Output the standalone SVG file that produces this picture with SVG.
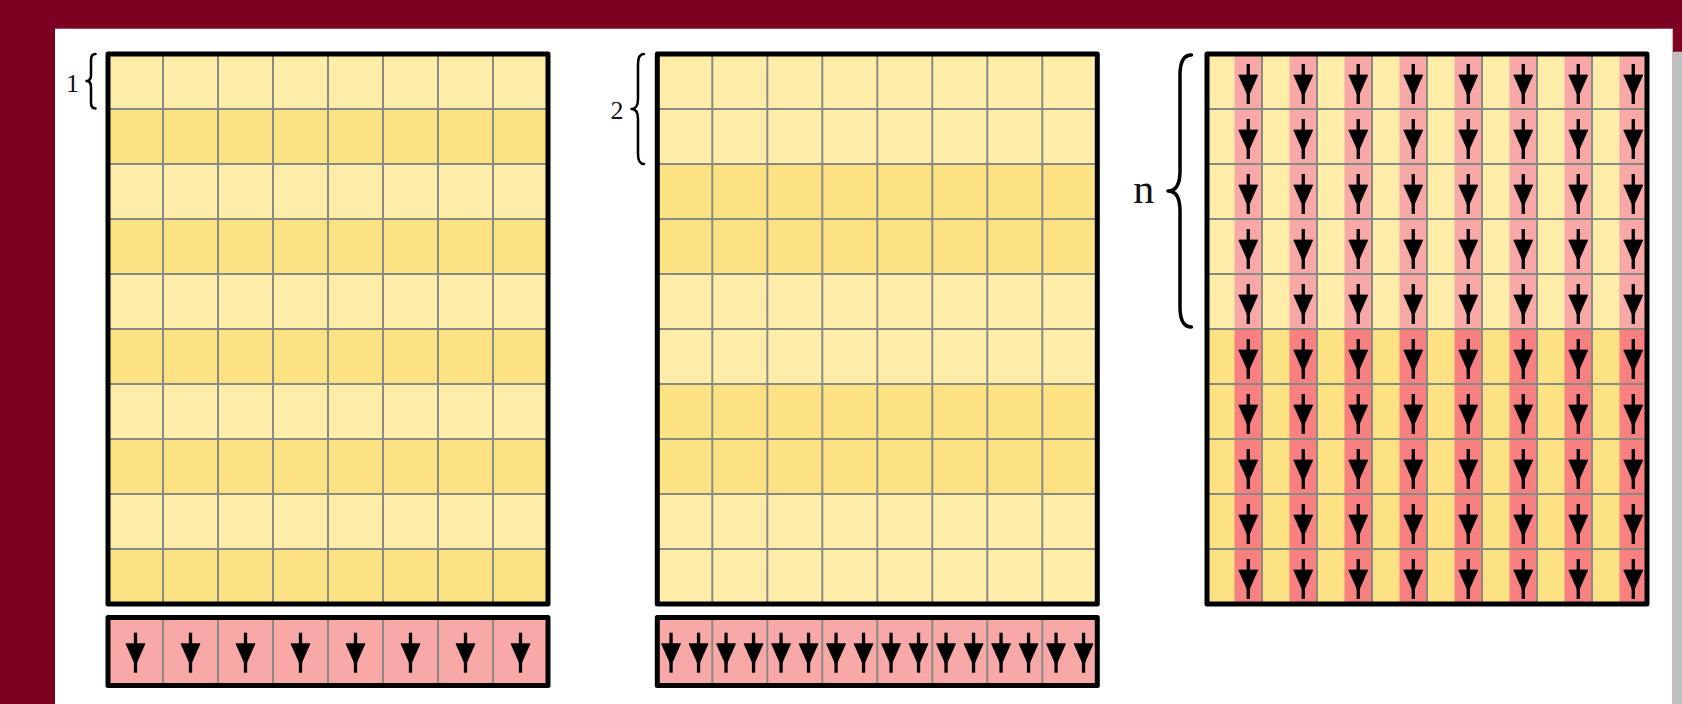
<svg xmlns="http://www.w3.org/2000/svg" xmlns:xlink="http://www.w3.org/1999/xlink" width="1682" height="704" viewBox="0 0 1682 704">
<style>
.ly{fill:#FEEDA9}.dy{fill:#FDE283}.lp{fill:#F9A8A8}.dp{fill:#F88080}
.gl{fill:none;stroke:#8a8a85;stroke-width:2}
.bd{fill:none;stroke:#000;stroke-width:5;stroke-linejoin:round}
.br{fill:none;stroke:#000;stroke-linecap:round;stroke-linejoin:round}
.lbl{font-family:"Liberation Serif","Times New Roman",serif;fill:#111;text-anchor:middle}
</style>
<defs>
<g id="arr"><line x1="0" y1="0" x2="0" y2="40" stroke="#000" stroke-width="3.3"/><polygon points="-9.5,11 9.5,11 0,32.5" fill="#000" stroke="#000" stroke-width="0.8" stroke-linejoin="round"/></g>
<g id="acol">
<use href="#arr" y="0"/><use href="#arr" y="55"/><use href="#arr" y="110"/><use href="#arr" y="165"/><use href="#arr" y="220"/>
<use href="#arr" y="275"/><use href="#arr" y="330"/><use href="#arr" y="385"/><use href="#arr" y="440"/><use href="#arr" y="495"/>
</g>
<path id="glines" class="gl" d="M55 0V550M110 0V550M165 0V550M220 0V550M275 0V550M330 0V550M385 0V550M0 55H440M0 110H440M0 165H440M0 220H440M0 275H440M0 330H440M0 385H440M0 440H440M0 495H440"/>
<path id="slines" class="gl" d="M55 0V68M110 0V68M165 0V68M220 0V68M275 0V68M330 0V68M385 0V68"/>
</defs>

<g id="background">
<rect width="1682" height="704" fill="#7B0022"/>
<rect x="55" y="28.7" width="1617.7" height="675.3" fill="#fff"/>
<rect x="1672.7" y="51.7" width="9.3" height="652.3" fill="#c0c0c0"/>
</g>

<g id="grid1">
<rect class="ly" x="108" y="54" width="440" height="550"/>
<rect class="dy" x="108" y="109" width="440" height="55"/>
<rect class="dy" x="108" y="219" width="440" height="55"/>
<rect class="dy" x="108" y="329" width="440" height="55"/>
<rect class="dy" x="108" y="439" width="440" height="55"/>
<rect class="dy" x="108" y="549" width="440" height="55"/>
<use href="#glines" x="108" y="54"/>
<rect class="bd" x="108" y="54" width="440" height="550"/>
</g>

<g id="label1">
<path class="br" stroke-width="2.5" d="M95.5 54 Q91 54 91 60 L91 75 Q91 81 86.5 81 Q91 81 91 87 L91 102.5 Q91 108.5 95.5 108.5"/>
<text class="lbl" x="72.5" y="91.5" font-size="26">1</text>
</g>

<g id="strip1">
<rect class="lp" x="108" y="617.5" width="440" height="68"/>
<use href="#slines" x="108" y="617.5"/>
<use href="#arr" x="135.5" y="632.7"/><use href="#arr" x="190.5" y="632.7"/><use href="#arr" x="245.5" y="632.7"/><use href="#arr" x="300.5" y="632.7"/>
<use href="#arr" x="355.5" y="632.7"/><use href="#arr" x="410.5" y="632.7"/><use href="#arr" x="465.5" y="632.7"/><use href="#arr" x="520.5" y="632.7"/>
<rect class="bd" x="108" y="617.5" width="440" height="68"/>
</g>

<g id="grid2">
<rect class="ly" x="657.3" y="54" width="440" height="550"/>
<rect class="dy" x="657.3" y="164" width="440" height="110"/>
<rect class="dy" x="657.3" y="384" width="440" height="110"/>
<use href="#glines" x="657.3" y="54"/>
<rect class="bd" x="657.3" y="54" width="440" height="550"/>
</g>

<g id="label2">
<path class="br" stroke-width="2.5" d="M644 54 Q638 54 638 64 L638 99 Q638 109 631.5 109 Q638 109 638 119 L638 154 Q638 164 644 164"/>
<text class="lbl" x="617" y="119" font-size="26">2</text>
</g>

<g id="strip2">
<rect class="lp" x="657.3" y="617.5" width="440" height="68"/>
<use href="#slines" x="657.3" y="617.5"/>
<use href="#arr" x="671.05" y="632.7"/><use href="#arr" x="698.55" y="632.7"/>
<use href="#arr" x="726.05" y="632.7"/><use href="#arr" x="753.55" y="632.7"/>
<use href="#arr" x="781.05" y="632.7"/><use href="#arr" x="808.55" y="632.7"/>
<use href="#arr" x="836.05" y="632.7"/><use href="#arr" x="863.55" y="632.7"/>
<use href="#arr" x="891.05" y="632.7"/><use href="#arr" x="918.55" y="632.7"/>
<use href="#arr" x="946.05" y="632.7"/><use href="#arr" x="973.55" y="632.7"/>
<use href="#arr" x="1001.05" y="632.7"/><use href="#arr" x="1028.55" y="632.7"/>
<use href="#arr" x="1056.05" y="632.7"/><use href="#arr" x="1083.55" y="632.7"/>
<rect class="bd" x="657.3" y="617.5" width="440" height="68"/>
</g>

<g id="grid3">
<rect class="ly" x="1207" y="54" width="440" height="275"/>
<rect class="dy" x="1207" y="329" width="440" height="275"/>
<rect class="lp" x="1234.5" y="54" width="27.5" height="275"/><rect class="dp" x="1234.5" y="329" width="27.5" height="275"/>
<rect class="lp" x="1289.5" y="54" width="27.5" height="275"/><rect class="dp" x="1289.5" y="329" width="27.5" height="275"/>
<rect class="lp" x="1344.5" y="54" width="27.5" height="275"/><rect class="dp" x="1344.5" y="329" width="27.5" height="275"/>
<rect class="lp" x="1399.5" y="54" width="27.5" height="275"/><rect class="dp" x="1399.5" y="329" width="27.5" height="275"/>
<rect class="lp" x="1454.5" y="54" width="27.5" height="275"/><rect class="dp" x="1454.5" y="329" width="27.5" height="275"/>
<rect class="lp" x="1509.5" y="54" width="27.5" height="275"/><rect class="dp" x="1509.5" y="329" width="27.5" height="275"/>
<rect class="lp" x="1564.5" y="54" width="27.5" height="275"/><rect class="dp" x="1564.5" y="329" width="27.5" height="275"/>
<rect class="lp" x="1619.5" y="54" width="27.5" height="275"/><rect class="dp" x="1619.5" y="329" width="27.5" height="275"/>
<use href="#glines" x="1207" y="54"/>
<use href="#acol" x="1248.25" y="64"/><use href="#acol" x="1303.25" y="64"/><use href="#acol" x="1358.25" y="64"/><use href="#acol" x="1413.25" y="64"/>
<use href="#acol" x="1468.25" y="64"/><use href="#acol" x="1523.25" y="64"/><use href="#acol" x="1578.25" y="64"/><use href="#acol" x="1633.25" y="64"/>
<rect class="bd" x="1207" y="54" width="440" height="550"/>
</g>

<g id="label3">
<path class="br" stroke-width="3.5" d="M1191.5 55 Q1180 55 1180 75 L1180 171 Q1180 191 1168 191 Q1180 191 1180 211 L1180 307 Q1180 327 1191.5 327"/>
<text class="lbl" x="1143.7" y="202.5" font-size="42">n</text>
</g>

<g id="connectors"/>
</svg>
